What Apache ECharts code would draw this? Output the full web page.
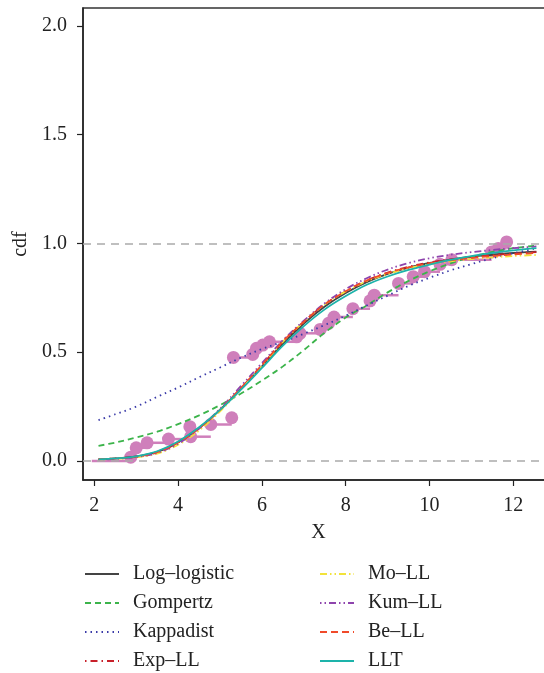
<!DOCTYPE html>
<html>
<head>
<meta charset="utf-8">
<script src="https://cdn.jsdelivr.net/npm/echarts@6/dist/echarts.min.js"></script>
<style>html,body{margin:0;padding:0;background:#fff;}#c{width:544px;height:673px;}</style>
</head>
<body>
<div id="c"></div>
<script>
// ---- data ----
const xTicks = [2, 4, 6, 8, 10, 12];
const yTicks = [0, 0.5, 1.0, 1.5, 2.0];
const refLines = [0, 1];

const curveX = [2.1, 2.5, 3, 3.5, 4, 4.5, 5, 5.5, 6, 6.5, 7, 7.5, 8, 8.5, 9, 9.5, 10, 10.5, 11, 11.5, 12, 12.55];
const logLogistic = [0.008,0.012,0.021,0.042,0.087,0.152,0.235,0.332,0.435,0.54,0.632,0.71,0.772,0.822,0.86,0.889,0.91,0.926,0.939,0.948,0.956,0.962];
const gompertz    = [0.07,0.085,0.108,0.135,0.17,0.21,0.257,0.31,0.37,0.435,0.51,0.59,0.66,0.715,0.775,0.828,0.872,0.908,0.938,0.961,0.978,0.99];
const kappadist   = [0.188,0.215,0.25,0.295,0.338,0.385,0.43,0.475,0.515,0.548,0.585,0.625,0.668,0.715,0.76,0.805,0.842,0.876,0.905,0.932,0.955,0.977];
const expLL       = [0.008,0.012,0.02,0.04,0.085,0.15,0.235,0.335,0.44,0.55,0.64,0.72,0.78,0.83,0.866,0.893,0.913,0.927,0.938,0.946,0.953,0.96];
const moLL        = [0.006,0.01,0.017,0.034,0.075,0.14,0.228,0.33,0.437,0.548,0.64,0.72,0.779,0.826,0.86,0.886,0.905,0.918,0.928,0.936,0.942,0.947];
const kumLL       = [0.006,0.01,0.018,0.038,0.08,0.15,0.24,0.345,0.45,0.555,0.645,0.725,0.79,0.84,0.88,0.91,0.932,0.948,0.96,0.97,0.978,0.986];
const beLL        = [0.008,0.012,0.02,0.041,0.086,0.151,0.236,0.336,0.441,0.55,0.64,0.72,0.78,0.829,0.864,0.89,0.909,0.922,0.933,0.942,0.949,0.956];
const llt         = [0.008,0.012,0.022,0.045,0.09,0.155,0.235,0.328,0.428,0.53,0.62,0.697,0.758,0.81,0.848,0.878,0.902,0.924,0.942,0.956,0.968,0.978];

const pointX = [2.87,3.00,3.26,3.77,4.28,4.30,4.78,5.28,5.32,5.78,5.87,6.02,6.18,6.83,6.91,7.39,7.59,7.72,8.17,8.58,8.68,9.26,9.61,9.88,10.25,10.53,11.48,11.64,11.84];
const pointY = [0.018,0.061,0.084,0.101,0.158,0.112,0.168,0.199,0.476,0.490,0.518,0.533,0.548,0.571,0.587,0.605,0.633,0.662,0.700,0.736,0.762,0.816,0.847,0.870,0.904,0.925,0.961,0.977,1.007];
const stepStartX = 1.94;

const seriesNames = ['Log\u2013logistic','Gompertz','Kappadist','Exp\u2013LL','Mo\u2013LL','Kum\u2013LL','Be\u2013LL','LLT'];
const seriesValues = [logLogistic, gompertz, kappadist, expLL, moLL, kumLL, beLL, llt];
const seriesColors = ['#444444','#3cb44b','#3a3aa8','#c8202a','#f2e23a','#8e44ad','#f04a2a','#1db3aa'];
const seriesDash = ['solid',[6,4],[1.5,4],[1.5,4,7,4],[7,3,1.5,3,1.5,3],[1.5,3,1.5,3,7,3],[7,4],'solid'];

// ---- build ----
const FONT = 'Liberation Serif';
const stepData = [];
let prevX = stepStartX, prevY = 0;
for (let i = 0; i < pointX.length; i++) {
  stepData.push([prevX, pointX[i], prevY]);
  prevX = pointX[i]; prevY = pointY[i];
}
const ptData = pointX.map((x, i) => [x, pointY[i]]);

const series = [];
series.push({
  type: 'line', name: '_ref', data: [], silent: true,
  markLine: {
    symbol: 'none', silent: true, label: {show: false},
    lineStyle: {color: '#aaaaaa', type: [8, 6], width: 1.5},
    data: refLines.map(v => ({yAxis: v}))
  }
});
series.push({
  type: 'custom', name: '_steps', data: stepData, silent: true,
  encode: {x: [0, 1], y: 2},
  renderItem: function (params, api) {
    const p1 = api.coord([api.value(0), api.value(2)]);
    const p2 = api.coord([api.value(1), api.value(2)]);
    return {type: 'line', shape: {x1: p1[0], y1: p1[1], x2: p2[0], y2: p2[1]},
      style: {stroke: '#cf7fbb', lineWidth: 2.5}};
  }
});
series.push({
  type: 'scatter', name: '_pts', data: ptData, symbolSize: 13, silent: true,
  itemStyle: {color: '#cf7fbb', opacity: 1}
});
seriesNames.forEach((n, k) => {
  series.push({
    type: 'line', name: n, smooth: 0.35, symbol: 'none', showSymbol: false,
    data: curveX.map((x, i) => [x, seriesValues[k][i]]),
    lineStyle: {color: seriesColors[k], width: 1.8, type: seriesDash[k]},
    itemStyle: {color: seriesColors[k]},
    z: 3
  });
});

const legendCommon = {
  orient: 'vertical', itemWidth: 34, itemHeight: 10, itemGap: 9, padding: 0, height: 120,
  textStyle: {fontFamily: FONT, fontSize: 20, color: '#222', lineHeight: 20, padding: [0, 0, 0, 9]},
  itemStyle: {opacity: 0},
  selectedMode: false
};

const chart = echarts.init(document.getElementById('c'), null, {renderer: 'canvas'});
chart.setOption({
  animation: false,
  backgroundColor: '#ffffff',
  grid: {left: 83, top: 8, right: -10, bottom: 193, show: true, borderColor: '#333', borderWidth: 1.5,
    containLabel: false, outerBoundsMode: 'none'},
  xAxis: {
    type: 'value', min: 1.73, max: 12.97,
    name: 'X', nameLocation: 'middle', nameGap: 43,
    nameTextStyle: {fontFamily: FONT, fontSize: 20, color: '#222'},
    axisLine: {show: true, onZero: false, lineStyle: {color: '#222', width: 1.5}},
    axisTick: {show: true, customValues: xTicks, length: 6, lineStyle: {color: '#222', width: 1.2}},
    axisLabel: {customValues: xTicks, fontFamily: FONT, fontSize: 20, color: '#222', margin: 16},
    splitLine: {show: false}
  },
  yAxis: {
    type: 'value', min: -0.087, max: 2.0816,
    name: 'cdf', nameLocation: 'middle', nameGap: 42, nameRotate: 90,
    nameTextStyle: {fontFamily: FONT, fontSize: 20, color: '#222'},
    axisLine: {show: true, onZero: false, lineStyle: {color: '#222', width: 1.5}},
    axisTick: {show: true, customValues: yTicks, length: 6, lineStyle: {color: '#222', width: 1.2}},
    axisLabel: {customValues: yTicks, fontFamily: FONT, fontSize: 20, color: '#222', margin: 16,
      formatter: v => v.toFixed(1)},
    splitLine: {show: false}
  },
  legend: [
    Object.assign({}, legendCommon, {left: 84, top: 564, data: seriesNames.slice(0, 4)}),
    Object.assign({}, legendCommon, {left: 319, top: 564, data: seriesNames.slice(4)})
  ],
  series: series
});
</script>
</body>
</html>
